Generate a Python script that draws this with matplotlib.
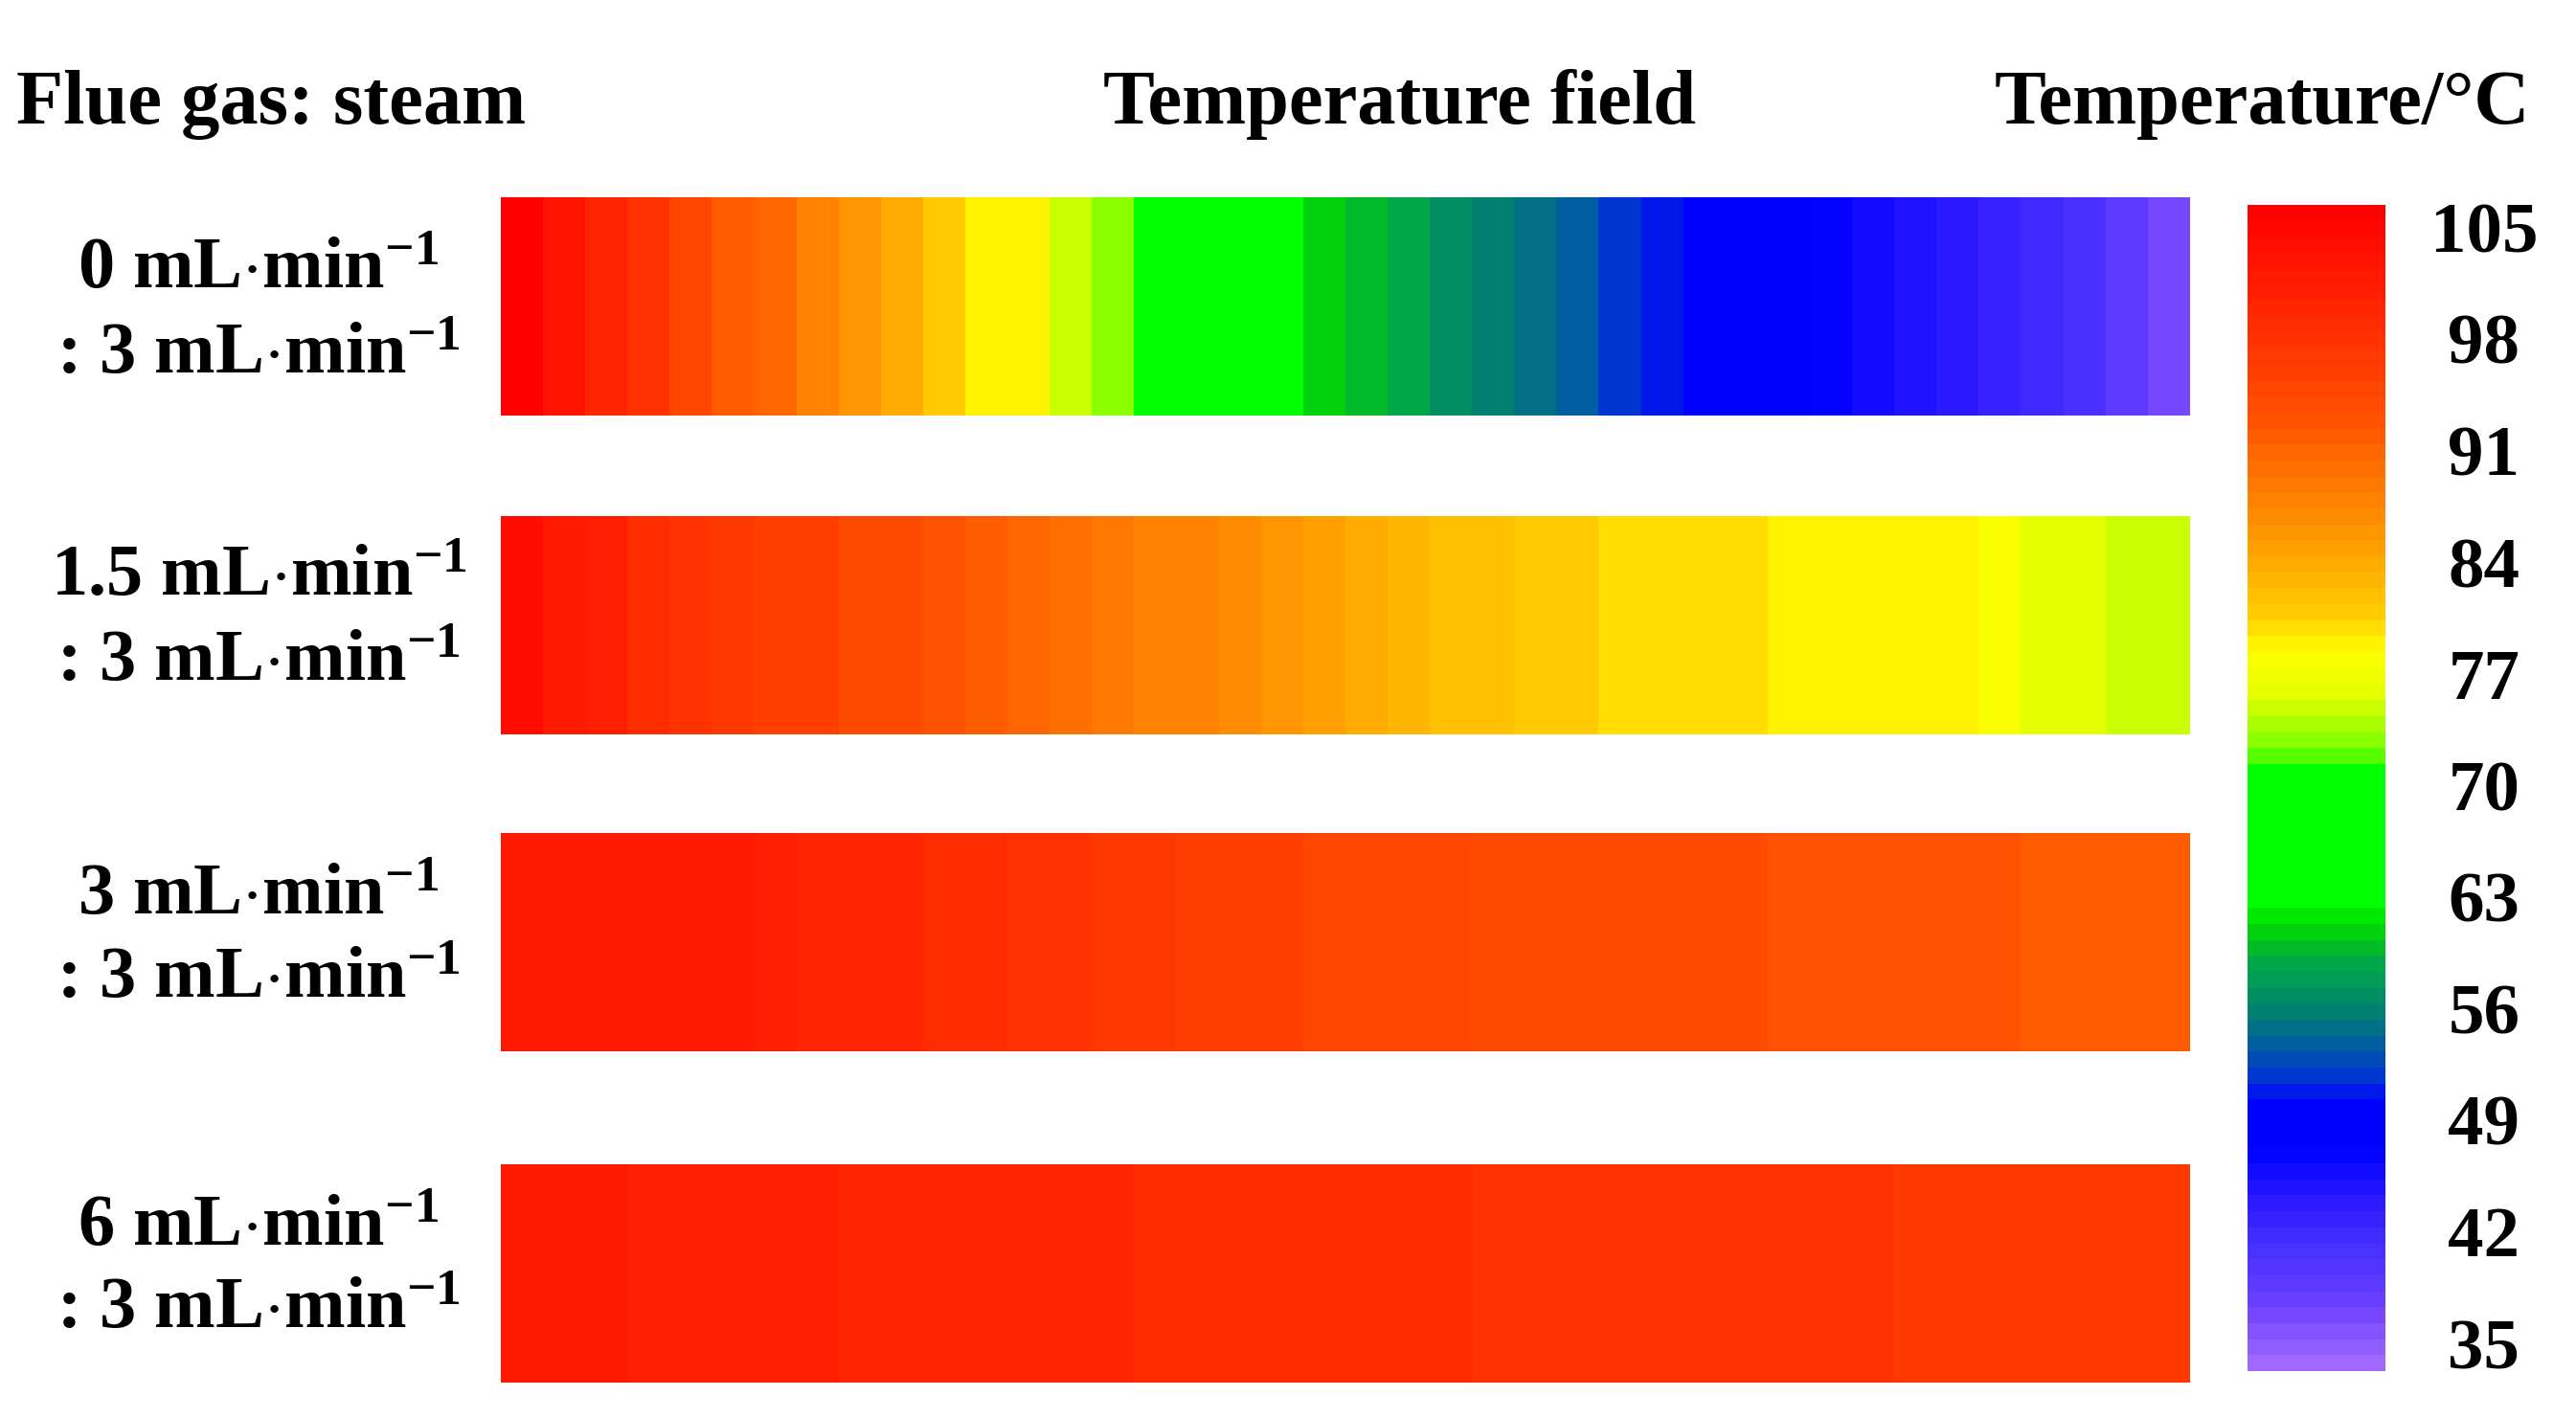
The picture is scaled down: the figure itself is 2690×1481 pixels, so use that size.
import matplotlib
matplotlib.use("Agg")
import matplotlib.pyplot as plt
import numpy as np
from matplotlib.colors import LinearSegmentedColormap, Normalize
from matplotlib.cm import ScalarMappable

plt.rcParams['font.family'] = ['Liberation Serif', 'DejaVu Serif']
plt.rcParams['font.weight'] = 'bold'
plt.rcParams['mathtext.fontset'] = 'custom'
plt.rcParams['mathtext.rm'] = 'Liberation Serif:bold'
plt.rcParams['mathtext.bf'] = 'Liberation Serif:bold'
plt.rcParams['mathtext.default'] = 'bf'

# flow-rate cases (flue gas : steam)
RowLabels = [
    (r"0 mL$\cdot$min$^{-1}$", r": 3 mL$\cdot$min$^{-1}$"),
    (r"1.5 mL$\cdot$min$^{-1}$", r": 3 mL$\cdot$min$^{-1}$"),
    (r"3 mL$\cdot$min$^{-1}$", r": 3 mL$\cdot$min$^{-1}$"),
    (r"6 mL$\cdot$min$^{-1}$", r": 3 mL$\cdot$min$^{-1}$"),
]

# temperature along the channel (°C), inlet -> outlet
Temp0 = [106.0, 103.2, 100.0, 97.4, 94.8, 92.2, 90.7, 87.9, 86.0, 84.2,
         81.2, 79.2, 78.4, 74.8, 72.4, 70.5, 68.0, 65.5, 63.0, 61.2,
         60.0, 58.5, 56.7, 55.5, 54.5, 53.4, 52.2, 51.0, 50.2, 49.2,
         48.0, 47.0, 45.3, 44.4, 43.8, 43.0, 41.7, 40.5, 38.9, 37.0]
Temp15 = [103.8, 101.9, 100.6, 99.3, 98.0, 96.7, 96.0, 95.4, 94.2, 93.5,
          92.6, 91.8, 90.9, 90.0, 88.8, 87.9, 87.4, 87.0, 85.8, 84.7,
          83.6, 83.2, 81.7, 81.5, 81.0, 80.9, 80.2, 80.1, 79.7, 79.6,
          79.3, 79.2, 78.9, 78.8, 78.4, 78.3, 76.3, 76.2, 75.0, 74.9]
Temp3 = [101.9, 101.9, 101.9, 101.8, 101.6, 101.5, 100.6, 100.0, 99.9, 99.6,
         98.7, 98.6, 98.3, 97.4, 97.3, 97.0, 96.1, 96.0, 95.8, 94.8,
         94.7, 94.6, 94.4, 94.2, 94.1, 93.8, 93.7, 93.5, 93.4, 93.4,
         93.0, 92.9, 92.9, 92.6, 92.5, 92.5, 92.3, 92.2, 92.1, 92.1]
Temp6 = [101.6, 101.5, 101.4, 100.9, 100.7, 100.6, 100.5, 100.4, 100.3, 100.2,
         99.9, 99.8, 99.7, 99.6, 99.4, 99.3, 99.2, 99.1, 98.8, 98.7,
         98.6, 98.5, 98.4, 98.3, 98.0, 97.9, 97.9, 97.8, 97.7, 97.7,
         97.6, 97.5, 97.4, 97.2, 97.1, 97.1, 97.0, 97.0, 96.9, 96.9]
Fields = [Temp0, Temp15, Temp3, Temp6]

TickValues = [105, 98, 91, 84, 77, 70, 63, 56, 49, 42, 35]

# colour scale of the contour legend
VMin, VMax = 33.26, 106.4
Anchors = [
    (106.4, '#ff0000'), (93.5, '#ff5000'), (86.6, '#ff9000'), (80.6, '#ffd000'),
    (78.4, '#ffff00'), (75.6, '#e0ff00'), (73.6, '#a0ff00'), (72.0, '#70ff00'),
    (71.4, '#00ff00'), (62.5, '#00ff00'), (61.2, '#00dd00'), (59.9, '#00c020'),
    (58.7, '#00a848'), (56.7, '#009060'), (55.2, '#007a78'), (53.2, '#0058a8'),
    (51.2, '#0030d8'), (49.8, '#0000ff'), (46.8, '#0000ff'), (43.8, '#2818ff'),
    (40.5, '#4830ff'), (37.0, '#6c40ff'), (33.26, '#a068ff'),
]
Anchors = sorted(Anchors)
Cmap = LinearSegmentedColormap.from_list(
    'field', [((v - VMin) / (VMax - VMin), c) for v, c in Anchors], N=73)
Norm = Normalize(vmin=VMin, vmax=VMax)

W, H = 2690, 1481
Fig = plt.figure(figsize=(W / 100, H / 100), dpi=100)


def PxAxes(x0, y0, x1, y1):
    return Fig.add_axes([x0 / W, 1 - y1 / H, (x1 - x0) / W, (y1 - y0) / H])


def PxText(x, y, s, **kw):
    Fig.text(x / W, 1 - y / H, s, fontweight='bold', **kw)


BarTops = [206, 539, 870, 1216]
BarHeight = 228
LabelY = [(301, 390), (622, 711), (955, 1042), (1301, 1387)]

for Field, Top, Label, (Ya, Yb) in zip(Fields, BarTops, RowLabels, LabelY):
    Ax = PxAxes(523, Top, 2287, Top + BarHeight)
    Ax.imshow(np.array(Field)[None, :], cmap=Cmap, norm=Norm, aspect='auto',
              interpolation='nearest')
    Ax.axis('off')
    PxText(270, Ya, Label[0], ha='center', va='baseline', fontsize=55)
    PxText(270, Yb, Label[1], ha='center', va='baseline', fontsize=55)

Cax = PxAxes(2347, 214, 2491, 1432)
Cb = Fig.colorbar(ScalarMappable(norm=Norm, cmap=Cmap), cax=Cax, ticks=TickValues)
Cb.outline.set_visible(False)
Cax.tick_params(length=0, pad=74, labelsize=54)
for Lbl in Cax.get_yticklabels():
    Lbl.set_ha('center')
    Lbl.set_fontweight('bold')
Cax.set_yticklabels([str(t) for t in TickValues])
for Lbl in Cax.get_yticklabels():
    Lbl.set_ha('center')
    Lbl.set_fontweight('bold')

PxText(17, 129, "Flue gas: steam", ha='left', va='baseline', fontsize=58)
PxText(1462, 129, "Temperature field", ha='center', va='baseline', fontsize=58)
PxText(2362, 129, "Temperature/°C", ha='center', va='baseline', fontsize=58)

Fig.savefig('out.png', dpi=100, facecolor='white')
